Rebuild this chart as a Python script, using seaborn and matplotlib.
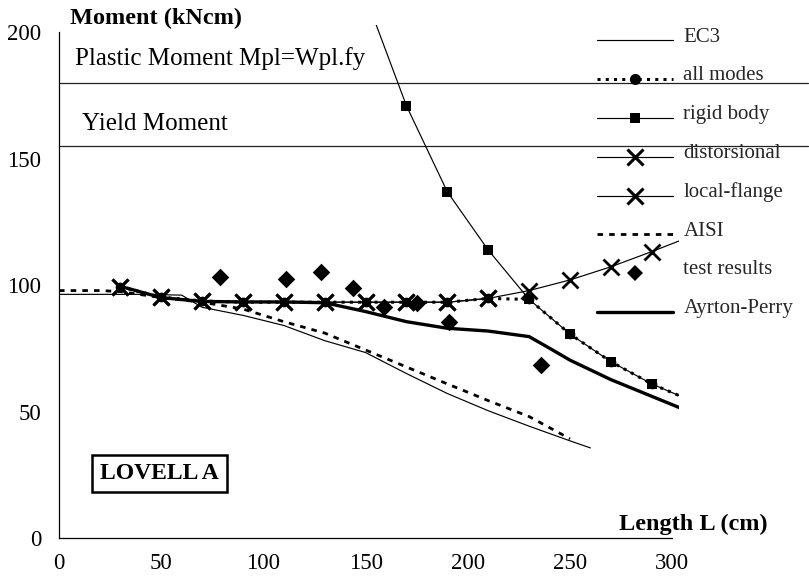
import matplotlib
matplotlib.use("Agg")
import numpy as np
import matplotlib.pyplot as plt
from matplotlib.lines import Line2D
import seaborn as sns

# ---- data (length L in cm, moment in kNcm) ----
grid_L = [30, 50, 70, 90, 110, 130, 150, 170, 190, 210, 230, 250, 270, 290, 310]

local_flange_M = [99.3, 95.2, 93.7, 93.2, 93.2, 93.2, 93.2, 93.2, 93.2, 94.7,
                  97.8, 102.0, 107.2, 113.2, 119.5]

distorsional_L = [30, 50, 70, 90, 110, 130, 150, 170, 190, 210]
distorsional_M = [99.3, 95.2, 93.7, 93.2, 93.2, 93.2, 93.2, 93.2, 93.2, 94.7]

rigid_L = [150, 170, 190, 210, 230, 250, 270, 290, 310]
rigid_M = [214.0, 170.8, 136.8, 113.8, 94.3, 80.6, 69.7, 60.9, 54.0]

all_modes_M = [99.3, 95.2, 93.7, 93.2, 93.2, 93.2, 93.2, 93.2, 93.2, 94.7,
               94.3, 80.6, 69.7, 60.9, 54.0]

ayrton_perry_L = [30, 50, 70, 90, 110, 130, 150, 170, 190, 210, 230, 240,
                  250, 270, 290, 310]
ayrton_perry_M = [99.5, 95.0, 93.5, 93.3, 93.3, 93.0, 89.5, 85.5, 82.9, 81.8,
                  79.6, 75.0, 70.3, 62.6, 56.0, 49.4]

ec3_L = [0, 20, 40, 60, 70, 90, 110, 130, 150, 170, 190, 210, 230, 250, 260]
ec3_M = [96.3, 96.3, 96.3, 96.0, 91.2, 88.0, 84.0, 78.0, 73.3, 65.0, 57.1,
         50.3, 44.2, 38.4, 35.6]

aisi_L = [0, 20, 30, 50, 70, 90, 110, 130, 150, 170, 190, 210, 230, 250]
aisi_M = [97.8, 97.8, 97.4, 95.0, 93.2, 90.5, 85.5, 81.0, 74.3, 67.6, 60.9,
          54.3, 48.0, 39.2]

test_L = [79, 111, 128, 144, 159, 175, 191, 236]
test_M = [103.0, 102.2, 105.3, 99.0, 91.2, 93.0, 85.5, 68.4]

plastic_moment = 180
yield_moment = 155

x_ticks = [0, 50, 100, 150, 200, 250, 300]
y_ticks = [0, 50, 100, 150, 200]

# ---- style ----
sns.set_theme(style="white")
plt.rcParams["font.family"] = ["Liberation Serif", "DejaVu Serif"]
plt.rcParams["axes.unicode_minus"] = False

W, H = 809, 576
fig = plt.figure(figsize=(W / 100, H / 100), dpi=100)
left_px, right_px, bottom_px, top_px = 59, 679, 538, 25
ax = fig.add_axes([left_px / W, 1 - bottom_px / H,
                   (right_px - left_px) / W, (bottom_px - top_px) / H])
ax.set_facecolor("white")

px_per_L = 102.2 / 50
px_per_M = 2.53
ax.set_xlim(0, (right_px - left_px) / px_per_L)
ax.set_ylim(0, (bottom_px - top_px) / px_per_M)

thin = 0.85
black = "black"
mk = dict(markeredgecolor=black, markerfacecolor=black)

# reference levels
xmax_axes = (808 - left_px) / (right_px - left_px)
for level in (plastic_moment, yield_moment):
    ax.axhline(level, xmin=0, xmax=xmax_axes, color="#222222", lw=0.9,
               clip_on=False, zorder=1)

# EC3
sns.lineplot(x=ec3_L, y=ec3_M, ax=ax, color=black, lw=thin, sort=False,
             estimator=None, zorder=2)
# AISI
sns.lineplot(x=aisi_L, y=aisi_M, ax=ax, color=black, lw=2.0, sort=False,
             estimator=None, linestyle=(0, (2.0, 2.2)), zorder=2)
# all modes
sns.lineplot(x=grid_L, y=all_modes_M, ax=ax, color=black, lw=2.2, sort=False,
             estimator=None, linestyle=(0, (1.0, 1.7)), marker="o",
             markersize=7, markeredgewidth=0, zorder=3, **mk)
# rigid body
sns.lineplot(x=rigid_L, y=rigid_M, ax=ax, color=black, lw=thin, sort=False,
             estimator=None, marker="s", markersize=7.5, markeredgewidth=0,
             zorder=4, **mk)
# distorsional
sns.lineplot(x=distorsional_L, y=distorsional_M, ax=ax, color=black, lw=thin,
             sort=False, estimator=None, marker="x", markersize=11,
             markeredgewidth=2.2, zorder=5, **mk)
# local-flange
sns.lineplot(x=grid_L, y=local_flange_M, ax=ax, color=black, lw=thin,
             sort=False, estimator=None, marker="x", markersize=11,
             markeredgewidth=2.0, zorder=5, **mk)
# Ayrton-Perry
sns.lineplot(x=ayrton_perry_L, y=ayrton_perry_M, ax=ax, color=black, lw=2.4,
             sort=False, estimator=None, zorder=6)
# test results
sns.scatterplot(x=test_L, y=test_M, ax=ax, color=black, marker="D", s=80,
                linewidth=0, zorder=7)

# axes, ticks
for side in ("top", "right"):
    ax.spines[side].set_visible(False)
ax.spines["left"].set_bounds(0, 200)
ax.spines["bottom"].set_bounds(0, 300)
for side in ("left", "bottom"):
    ax.spines[side].set_color(black)
    ax.spines[side].set_linewidth(0.9)
ax.set_xticks(x_ticks)
ax.set_yticks(y_ticks)
ax.tick_params(axis="both", direction="inout", length=7.5, width=0.9,
               color=black, labelsize=16.5, labelcolor=black, pad=7)
ax.tick_params(axis="y", pad=9)
ax.set_xlabel("")
ax.set_ylabel("")
ax.grid(False)

# annotations
ax.text(7.8, 187, "Plastic Moment Mpl=Wpl.fy", fontsize=18, color=black,
        va="baseline", ha="left")
ax.text(11.3, 161.3, "Yield Moment", fontsize=18, color=black,
        va="baseline", ha="left")
ax.text(49, 25.5, "LOVELL A", fontsize=17, fontweight="bold", color=black,
        ha="center", va="center",
        bbox=dict(boxstyle="square,pad=0.35", fc="white", ec=black, lw=1.8))
fig.text(70 / W, 1 - 8 / H, "Moment (kNcm)", fontsize=17.5,
         fontweight="bold", color=black, ha="left", va="top")
fig.text(768 / W, 1 - 530 / H, "Length L (cm)", fontsize=17.5,
         fontweight="bold", color=black, ha="right", va="baseline")

# legend
handles = [
    Line2D([], [], color=black, lw=thin),
    Line2D([], [], color=black, lw=2.2, linestyle=(0, (1.0, 1.7)),
           marker="o", markersize=8, markeredgewidth=0),
    Line2D([], [], color=black, lw=thin, marker="s", markersize=7.5,
           markeredgewidth=0),
    Line2D([], [], color=black, lw=thin, marker="x", markersize=11,
           markeredgewidth=2.2),
    Line2D([], [], color=black, lw=thin, marker="x", markersize=11,
           markeredgewidth=2.2),
    Line2D([], [], color=black, lw=2.0, linestyle=(0, (2.0, 2.2))),
    Line2D([], [], color=black, lw=0, marker="D", markersize=8,
           markeredgewidth=0),
    Line2D([], [], color=black, lw=2.4),
]
labels = ["EC3", "all modes", "rigid body", "distorsional", "local-flange",
          "AISI", "test results", "Ayrton-Perry"]
leg = fig.legend(handles, labels, loc="upper left",
                 bbox_to_anchor=(597 / W, 1 - 27 / H), frameon=False,
                 fontsize=15, handlelength=3.65, handletextpad=0.5,
                 labelspacing=0.92, borderpad=0, borderaxespad=0, numpoints=1)
# sit the sample lines and their markers a little below the label centres
for art in leg.findobj(Line2D):
    y = np.asarray(art.get_ydata(), dtype=float)
    if y.size:
        art.set_ydata(y - 4.3)

fig.savefig("out.png", dpi=100, facecolor="white")
